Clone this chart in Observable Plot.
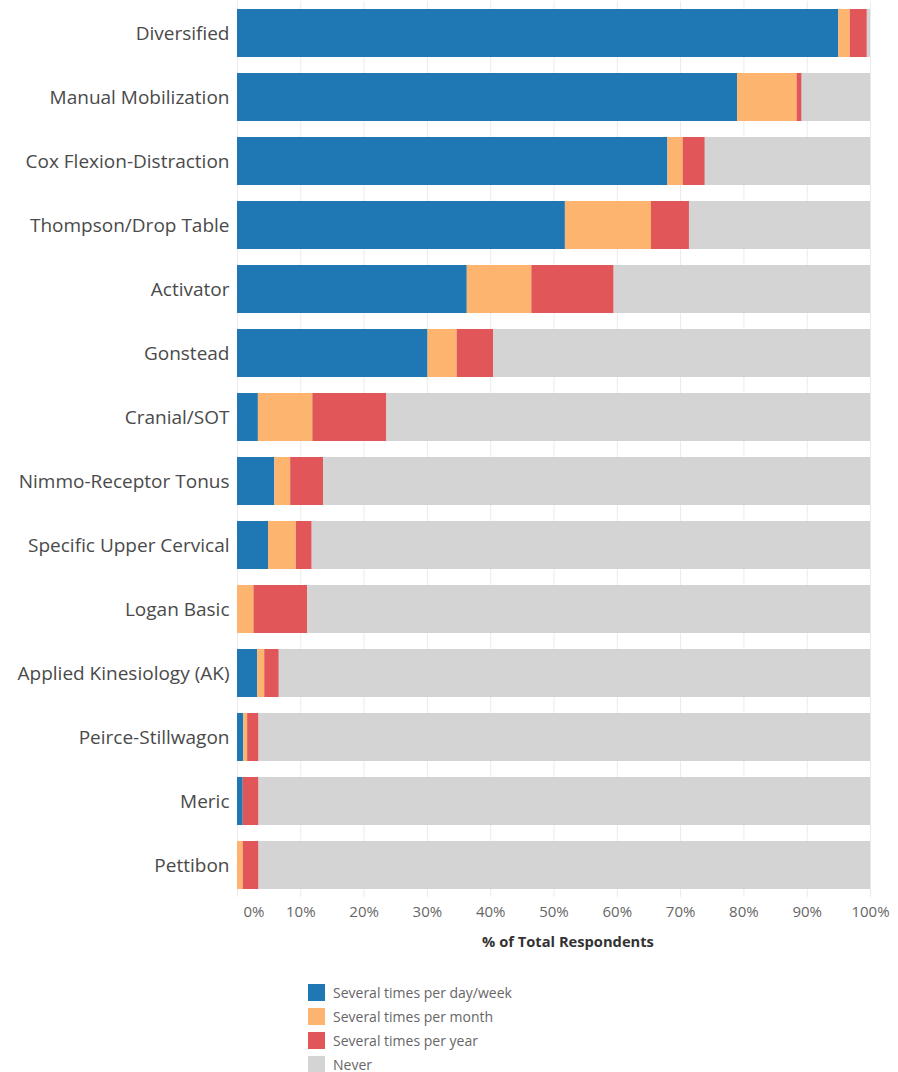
<!DOCTYPE html>
<html>
<head>
<meta charset="utf-8">
<script src="https://cdn.jsdelivr.net/npm/d3@7"></script>
<script src="https://cdn.jsdelivr.net/npm/@observablehq/plot@0.6"></script>
<style>
  body { margin: 0; background: #fff; font-family: "Open Sans", sans-serif; }
  #legend { margin: 20px 0 0 308px; font-size: 14px; color: #666; }
  .row { display: flex; align-items: center; height: 24px; }
  .sw { width: 17px; height: 17px; margin-right: 8px; }
</style>
</head>
<body>
<div id="chart"></div>
<div id="legend"></div>
<script>
const methods = ["Diversified", "Manual Mobilization", "Cox Flexion-Distraction", "Thompson/Drop Table", "Activator", "Gonstead", "Cranial/SOT", "Nimmo-Receptor Tonus", "Specific Upper Cervical", "Logan Basic", "Applied Kinesiology (AK)", "Peirce-Stillwagon", "Meric", "Pettibon"];
const seriesNames = ["Several times per day/week", "Several times per month", "Several times per year", "Never"];
const seriesColors = ["#1f77b4", "#fdb46e", "#e05659", "#d4d4d4"];
const dayWeek = [95.0, 79.0, 68.0, 51.8, 36.3, 30.1, 3.3, 5.9, 4.9, 0, 3.2, 1.0, 0.9, 0];
const month   = [1.8, 9.4, 2.4, 13.6, 10.2, 4.6, 8.6, 2.5, 4.4, 2.6, 1.1, 0.6, 0, 0.9];
const year    = [2.7, 0.8, 3.5, 6.0, 13.0, 5.8, 11.7, 5.2, 2.5, 8.5, 2.3, 1.8, 2.5, 2.5];
const never   = [0.5, 10.8, 26.1, 28.6, 40.5, 59.5, 76.4, 86.4, 88.2, 88.9, 93.4, 96.6, 96.6, 96.6];
const xTicks = [0, 10, 20, 30, 40, 50, 60, 70, 80, 90, 100];

const seriesValues = [dayWeek, month, year, never];
const data = [];
methods.forEach((m, i) => {
  seriesValues.forEach((vals, s) => {
    data.push({method: m, series: seriesNames[s], value: vals[i]});
  });
});

const fmt = d => d + "%";
const plot = Plot.plot({
  width: 898,
  height: 960,
  marginLeft: 237,
  marginRight: 28,
  marginTop: 1,
  marginBottom: 63,
  style: { fontFamily: "'Open Sans', sans-serif", background: "#fff" },
  x: { domain: [0, 100] },
  y: { domain: methods, paddingInner: 0.25, paddingOuter: 0.125 },
  color: { domain: seriesNames, range: seriesColors },
  marks: [
    Plot.gridX(xTicks, { stroke: "#ebebeb", strokeOpacity: 1 }),
    Plot.barX(data, Plot.stackX({ y: "method", x: "value", fill: "series", order: seriesNames })),
    Plot.axisY({ tickSize: 0, tickPadding: 8, fontSize: 19, color: "#4a4a4a", label: null }),
    Plot.axisX(xTicks.slice(1), { tickSize: 0, tickPadding: 9, fontSize: 15, color: "#666", tickFormat: fmt, label: null }),
    Plot.axisX([xTicks[0]], { tickSize: 0, tickPadding: 9, fontSize: 15, color: "#666", tickFormat: fmt, textAnchor: "start", dx: 6, label: null }),
    Plot.text(["% of Total Respondents"], { frameAnchor: "bottom", dy: 49, dx: 14, fontSize: 14.7, fontWeight: "bold", fill: "#333" })
  ]
});
document.getElementById("chart").appendChild(plot);

const legend = document.getElementById("legend");
seriesNames.forEach((n, i) => {
  const row = document.createElement("div");
  row.className = "row";
  const sw = document.createElement("div");
  sw.className = "sw";
  sw.style.background = seriesColors[i];
  const t = document.createElement("span");
  t.textContent = n;
  row.appendChild(sw);
  row.appendChild(t);
  legend.appendChild(row);
});
</script>
</body>
</html>
